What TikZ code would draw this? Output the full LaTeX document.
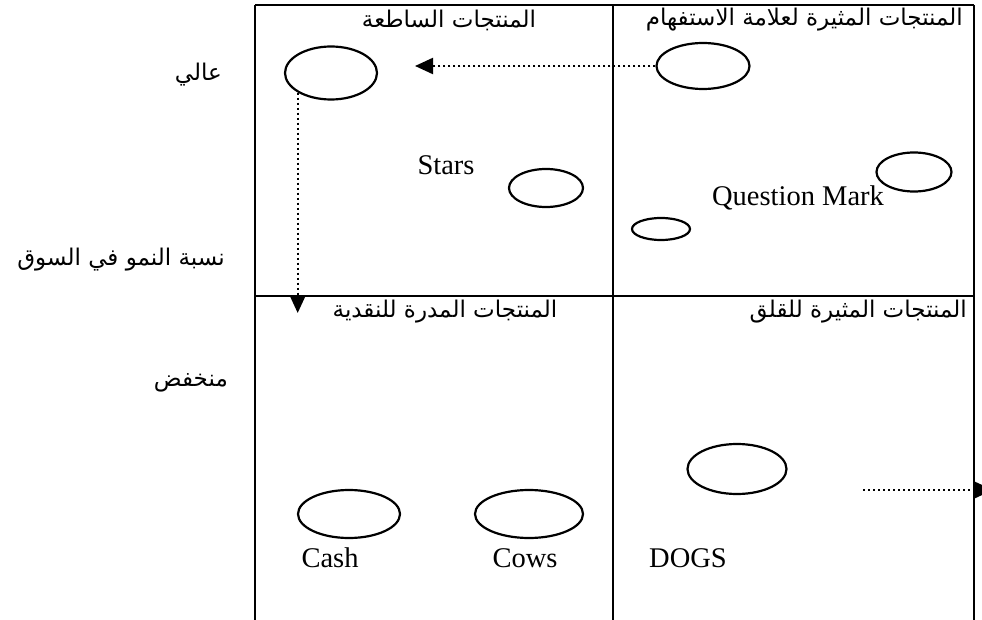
\documentclass[tikz,border=0pt]{standalone}
\usepackage{fontspec}
\setmainfont{Liberation Serif}
\newfontfamily\arabicfont[Script=Arabic]{DejaVu Sans}
\TeXXeTstate=1
\usetikzlibrary{shapes.geometric,arrows.meta}

\tikzset{
  bubble/.style={ellipse, draw, line width=2.2pt, inner sep=0pt},
  gridline/.style={line width=2.2pt},
  flow/.style={line width=2.2pt, dash pattern=on 2pt off 3pt, -{Triangle[length=18pt,width=16pt]}},
  artext/.style={font=\arabicfont\fontsize{23}{27}\selectfont, inner sep=0pt},
  entext/.style={font=\fontsize{28.5}{34}\selectfont, inner sep=0pt},
}

\begin{document}
\begin{tikzpicture}[x=1pt, y=-1pt]
        \useasboundingbox (0,0) rectangle (982,620);
        \clip (0,0) rectangle (982,620);
        % Grid
        \coordinate (nw) at (255,5);
        \coordinate (nm) at (613,5);
        \coordinate (ne) at (974,5);
        \coordinate (mw) at (255,296);
        \coordinate (me) at (974,296);
        \draw[gridline] (nw) -- (ne);
        \draw[gridline] (mw) -- (me);
        \draw[gridline] (nw) -- (nw |- 0,620);
        \draw[gridline] (nm) -- (nm |- 0,620);
        \draw[gridline] (ne) -- (ne |- 0,620);
        % Quadrant titles
        \node[artext] (starsTitle) at (449,20) {\beginR المنتجات الساطعة\endR};
        \node[artext, anchor=east] (qmTitle) at (963,20) {\beginR المنتجات المثيرة لعلامة الاستفهام\endR};
        \node[artext] (cashTitle) at (445,312) {\beginR المنتجات المدرة للنقدية\endR};
        \node[artext, anchor=east] (dogsTitle) at (967,312) {\beginR المنتجات المثيرة للقلق\endR};
        % Axis labels
        \node[artext, anchor=east] (highLbl) at (222,75) {\beginR عالي\endR};
        \node[artext, anchor=east] (growthLbl) at (225,260) {\beginR نسبة النمو في السوق\endR};
        \node[artext, anchor=east] (lowLbl) at (228,383) {\beginR منخفض\endR};
        % Bubbles
        \node[bubble, minimum width=92pt, minimum height=53pt] (starsBig) at (331,73) {};
        \node[bubble, minimum width=74pt, minimum height=38pt] (starsSmall) at (546,188) {};
        \node[bubble, minimum width=93pt, minimum height=46pt] (qmBig) at (703,66) {};
        \node[bubble, minimum width=75pt, minimum height=39pt] (qmRight) at (914,172) {};
        \node[bubble, minimum width=58pt, minimum height=22pt] (qmSmall) at (661,229) {};
        \node[bubble, minimum width=102pt, minimum height=48pt] (cashBub) at (349,514) {};
        \node[bubble, minimum width=108pt, minimum height=48pt] (cowsBub) at (529,514) {};
        \node[bubble, minimum width=99pt, minimum height=50pt] (dogsBub) at (737,469) {};
        % Latin labels
        \node[entext] (starsTxt) at (446,165) {Stars};
        \node[entext] (qmTxt) at (798,198) {Question Mark};
        \node[entext] (cashTxt) at (330,558) {Cash};
        \node[entext] (cowsTxt) at (525,558) {Cows};
        \node[entext] (dogsTxt) at (688,558) {DOGS};
        % Arrows
        \coordinate (leftTip) at (415,66);
        \coordinate (downTip) at (300,313);
        \coordinate (dogsTail) at (863,490);
        \coordinate (dogsTip) at (993,490);
        \draw[flow] (qmBig.west) -- (leftTip);
        \draw[flow] (starsBig.south west) -- (starsBig.south west |- downTip);
        \draw[flow] (dogsTail) -- (dogsTip);
\end{tikzpicture}
\end{document}
